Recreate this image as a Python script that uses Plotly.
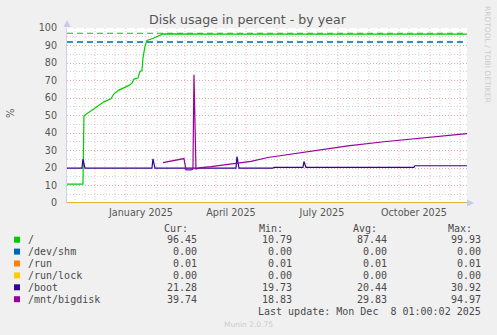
import plotly.graph_objects as go
from datetime import date

# ---------------- data ----------------
X_START = "2024-11-03 01:00"
X_END = "2025-12-08 01:00"

root_dates = ["2024-11-03", "2024-11-19", "2024-11-20", "2024-11-27", "2024-12-04", "2024-12-10",
              "2024-12-17", "2024-12-20", "2024-12-25", "2024-12-31", "2025-01-04", "2025-01-07",
              "2025-01-09", "2025-01-13", "2025-01-15", "2025-01-17", "2025-01-18", "2025-01-20",
              "2025-01-22", "2025-01-29", "2025-02-02", "2025-02-04", "2025-02-07", "2025-04-01",
              "2025-07-01", "2025-10-01", "2025-12-08"]
root_vals = [10.8, 10.8, 49.8, 52.5, 55.0, 57.8,
             59.5, 62.4, 64.5, 66.0, 67.2, 68.5,
             70.8, 71.4, 75.2, 75.7, 82.8, 89.5,
             92.9, 94.3, 95.2, 95.6, 96.6, 96.5,
             96.5, 96.5, 96.45]

flat_dates = ["2024-11-03", "2025-12-08"]
shm_vals = [0.0, 0.0]
run_vals = [0.01, 0.01]
runlock_vals = [0.0, 0.0]

boot_dates = ["2024-11-03", "2024-11-18", "2024-11-19", "2024-11-21", "2025-01-27", "2025-01-28",
              "2025-01-30", "2025-04-21", "2025-04-22", "2025-04-24", "2025-05-28", "2025-05-29",
              "2025-06-27", "2025-06-28", "2025-06-30", "2025-10-16", "2025-10-17", "2025-12-08"]
boot_vals = [19.9, 19.9, 25.0, 19.9, 19.9, 25.2,
             19.9, 19.9, 26.5, 19.9, 19.9, 20.4,
             20.4, 23.7, 20.4, 20.4, 21.3, 21.28]

bigdisk_dates = ["2025-02-07", "2025-02-14", "2025-02-20", "2025-02-28", "2025-03-02", "2025-03-07",
                 "2025-03-09", "2025-03-10", "2025-03-12", "2025-03-17", "2025-03-27", "2025-04-13",
                 "2025-04-23", "2025-05-06", "2025-05-23", "2025-06-08", "2025-06-25", "2025-07-15",
                 "2025-08-11", "2025-09-16", "2025-10-20", "2025-11-12", "2025-12-08"]
bigdisk_vals = [23.1, 24.0, 24.6, 25.4, 18.9, 18.9,
                19.4, 73.3, 19.5, 20.2, 20.8, 22.1,
                22.7, 23.8, 26.0, 27.3, 28.4, 30.0,
                32.6, 35.0, 37.0, 38.3, 39.7]

warn_root = 97
warn_shm = 92

xtick_vals = ["2025-01-16", "2025-04-16", "2025-07-16", "2025-10-16"]
xtick_text = ["January 2025", "April 2025", "July 2025", "October 2025"]

legend_labels = ["/", "/dev/shm", "/run", "/run/lock", "/boot", "/mnt/bigdisk"]
legend_colors = ["#00CC00", "#0066B3", "#FF8000", "#FFCC00", "#330099", "#990099"]
cur_vals = ["96.45", "0.00", "0.01", "0.00", "21.28", "39.74"]
min_vals = ["10.79", "0.00", "0.01", "0.00", "19.73", "18.83"]
avg_vals = ["87.44", "0.00", "0.01", "0.00", "20.44", "29.83"]
max_vals = ["99.93", "0.00", "0.01", "0.00", "30.92", "94.97"]

# ---------------- layout geometry ----------------
W, H = 497, 335
PL, PR, PT, PB = 67, 467, 28, 203


def xp(px):
    return (px - PL) / (PR - PL)


def yp(py):
    return (PB - py) / (PB - PT)


fig = go.Figure()

series = [
    ("/", root_dates, root_vals, legend_colors[0]),
    ("/dev/shm", flat_dates, shm_vals, legend_colors[1]),
    ("/run", flat_dates, run_vals, legend_colors[2]),
    ("/run/lock", flat_dates, runlock_vals, legend_colors[3]),
    ("/boot", boot_dates, boot_vals, legend_colors[4]),
    ("/mnt/bigdisk", bigdisk_dates, bigdisk_vals, legend_colors[5]),
]

# threshold lines
fig.add_trace(go.Scatter(x=[X_START, X_END], y=[warn_root, warn_root], mode="lines",
                         line=dict(color="#00CC00", width=1.2, dash="6px,4px"),
                         showlegend=False, hoverinfo="skip"))
fig.add_trace(go.Scatter(x=[X_START, X_END], y=[warn_shm, warn_shm], mode="lines",
                         line=dict(color="#0066B3", width=1.4, dash="6px,4px"),
                         showlegend=False, hoverinfo="skip"))

for name, xs, ys, col in series:
    fig.add_trace(go.Scatter(x=xs, y=ys, mode="lines", name=name,
                             line=dict(color=col, width=1.2), showlegend=False))

shapes = []
months = []
y, m = 2024, 11
while (y, m) <= (2025, 12):
    months.append((y, m))
    m += 1
    if m > 12:
        m = 1
        y += 1
xs_min, xs_max = date(2024, 11, 3), date(2025, 12, 8)
for (yy, mm) in months:
    for d in (11, 21):
        dt = date(yy, mm, d)
        if xs_min < dt < xs_max:
            shapes.append(dict(type="line", xref="x", yref="paper", x0=dt.isoformat(), x1=dt.isoformat(),
                               y0=0, y1=1, layer="below",
                               line=dict(color="#D8D8D8", width=1, dash="1px,2px")))
for (yy, mm) in months:
    dt = date(yy, mm, 1)
    if xs_min < dt < xs_max:
        shapes.append(dict(type="line", xref="x", yref="paper", x0=dt.isoformat(), x1=dt.isoformat(),
                           y0=0, y1=1, layer="below",
                           line=dict(color="#F2B8B8", width=1, dash="1px,2px")))

# axis arrows
shapes.append(dict(type="path", xref="paper", yref="paper",
                   path=f"M {xp(63.5)} {yp(27)} L {xp(70.5)} {yp(27)} L {xp(67)} {yp(20)} Z",
                   fillcolor="#C8C8F4", line=dict(width=0)))
shapes.append(dict(type="path", xref="paper", yref="paper",
                   path=f"M {xp(467)} {yp(199.5)} L {xp(467)} {yp(206.5)} L {xp(474)} {yp(203)} Z",
                   fillcolor="#C8C8F4", line=dict(width=0)))

annotations = []
annotations.append(dict(text="Disk usage in percent - by year", xref="paper", yref="paper",
                        x=xp(248), y=yp(19), xanchor="center", yanchor="middle", showarrow=False,
                        font=dict(family="DejaVu Sans", size=12.6, color="#555555")))
annotations.append(dict(text="%", xref="paper", yref="paper", x=xp(10), y=yp(113),
                        xanchor="center", yanchor="middle", showarrow=False, textangle=-90,
                        font=dict(family="DejaVu Sans", size=10, color="#555555")))
annotations.append(dict(text="RRDTOOL / TOBI OETIKER", xref="paper", yref="paper", x=xp(488), y=yp(54),
                        xanchor="center", yanchor="middle", showarrow=False, textangle=90,
                        font=dict(family="DejaVu Sans", size=7.5, color="#CCCCCC")))
annotations.append(dict(text="Munin 2.0.75", xref="paper", yref="paper", x=xp(248), y=yp(324),
                        xanchor="center", yanchor="middle", showarrow=False,
                        font=dict(family="DejaVu Sans", size=7.5, color="#CCCCCC")))

mono = dict(family="DejaVu Sans Mono", size=10, color="#4A4A4A")
header_y = 228.3
for htxt, hx in (("Cur:", 163), ("Min:", 258.3), ("Avg:", 351.7), ("Max:", 446.7)):
    annotations.append(dict(text=htxt, xref="paper", yref="paper", x=xp(hx), y=yp(header_y),
                            xanchor="left", yanchor="middle", showarrow=False, borderpad=0, font=mono))

for i, lab in enumerate(legend_labels):
    ry = 239.7 + 11.9 * i
    shapes.append(dict(type="rect", xref="paper", yref="paper",
                       x0=xp(14), x1=xp(20), y0=yp(ry - 3), y1=yp(ry + 3),
                       fillcolor=legend_colors[i], line=dict(width=0)))
    annotations.append(dict(text=lab, xref="paper", yref="paper", x=xp(26.5), y=yp(ry),
                            xanchor="left", yanchor="middle", showarrow=False, borderpad=0, font=mono))
    for arr, rx in ((cur_vals, 198.3), (min_vals, 293.3), (avg_vals, 388.3), (max_vals, 482.3)):
        annotations.append(dict(text=arr[i], xref="paper", yref="paper", x=xp(rx), y=yp(ry),
                                xanchor="right", yanchor="middle", showarrow=False, borderpad=0, font=mono))

annotations.append(dict(text="Last update: Mon Dec\u00a0\u00a08 01:00:02 2025", xref="paper", yref="paper",
                        x=xp(482.3), y=yp(311.7), xanchor="right", yanchor="middle", showarrow=False,
                        borderpad=0, font=mono))

fig.update_layout(
    width=W, height=H,
    margin=dict(l=PL, r=W - PR, t=PT, b=H - PB, pad=0),
    paper_bgcolor="#F0F0F0",
    plot_bgcolor="#FFFFFF",
    shapes=shapes,
    annotations=annotations,
    showlegend=False,
    xaxis=dict(range=[X_START, X_END], type="date", tickvals=xtick_vals, ticktext=xtick_text,
               showgrid=False, zeroline=False, showline=False, ticks="",
               tickfont=dict(family="DejaVu Sans", size=9.6, color="#555555"),
               ticklabelstandoff=2),
    yaxis=dict(range=[0, 100], tickvals=list(range(0, 101, 10)), showgrid=True,
               gridcolor="#EDA8A8", griddash="1px,2px", gridwidth=1,
               minor=dict(dtick=5, tick0=0, showgrid=True, gridcolor="#D4D4D4", griddash="1px,2px"),
               zeroline=False, showline=True, linecolor="#D0D0F0", linewidth=1,
               ticks="", tickfont=dict(family="DejaVu Sans", size=9.6, color="#555555"),
               ticklabelstandoff=7),
)

fig.write_html("out.html")
